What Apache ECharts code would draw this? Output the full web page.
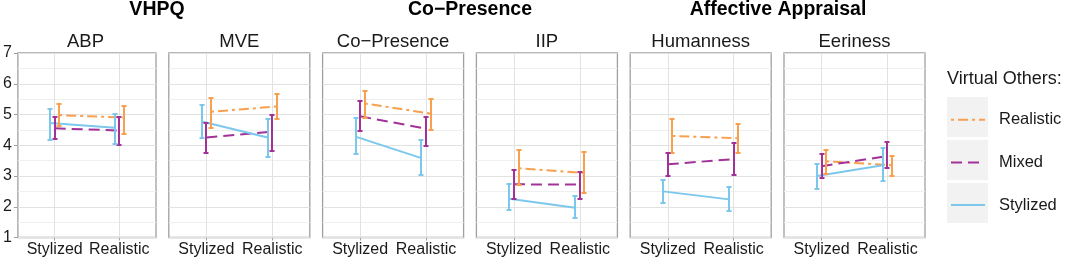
<!DOCTYPE html>
<html>
<head>
<meta charset="utf-8">
<script src="https://cdn.jsdelivr.net/npm/echarts@6/dist/echarts.min.js"></script>
<style>
  html, body { margin: 0; padding: 0; background: #fff; }
  #chart { width: 1065px; height: 261px; }
</style>
</head>
<body>
<div id="chart"></div>
<script>
// facets and groups
const groupTitles = ['VHPQ', 'Co\u2212Presence', 'Affective Appraisal'];
const panelNames = ['ABP', 'MVE', 'Co\u2212Presence', 'IIP', 'Humanness', 'Eeriness'];
const conditions = ['Stylized', 'Realistic'];
const others = ['Realistic', 'Mixed', 'Stylized'];

// [stylized, realistic] per panel
const realisticMean = [[4.98, 4.90], [5.09, 5.26], [5.36, 5.03], [3.25, 3.10], [4.30, 4.23], [3.48, 3.35]];
const realisticLow  = [[4.62, 4.38], [4.55, 4.84], [4.90, 4.49], [2.70, 2.45], [3.76, 3.74], [3.06, 3.00]];
const realisticHigh = [[5.35, 5.28], [5.55, 5.68], [5.78, 5.52], [3.86, 3.78], [4.86, 4.68], [3.86, 3.66]];

const mixedMean = [[4.55, 4.48], [4.25, 4.44], [4.94, 4.54], [2.73, 2.72], [3.38, 3.55], [3.32, 3.65]];
const mixedLow  = [[4.21, 4.02], [3.74, 3.80], [4.47, 3.99], [2.26, 2.25], [3.01, 3.04], [2.92, 3.27]];
const mixedHigh = [[4.92, 4.92], [4.72, 5.00], [5.45, 4.92], [3.18, 3.12], [3.76, 4.06], [3.71, 4.10]];

const stylizedMean = [[4.72, 4.57], [4.77, 4.25], [4.28, 3.58], [2.26, 1.97], [2.50, 2.24], [3.00, 3.35]];
const stylizedLow  = [[4.18, 4.03], [4.23, 3.62], [3.71, 3.02], [1.91, 1.63], [2.12, 1.86], [2.59, 2.84]];
const stylizedHigh = [[5.17, 5.03], [5.32, 4.85], [4.88, 4.17], [2.74, 2.36], [2.86, 2.65], [3.40, 3.90]];

const stats = {
  Realistic: { mean: realisticMean, low: realisticLow, high: realisticHigh },
  Mixed: { mean: mixedMean, low: mixedLow, high: mixedHigh },
  Stylized: { mean: stylizedMean, low: stylizedLow, high: stylizedHigh }
};

const colors = { Realistic: '#F9A04E', Mixed: '#A23298', Stylized: '#7CC8EC' };
const dashes = { Realistic: [3, 4, 10, 4], Mixed: [11, 6], Stylized: 'solid' };
const dodge = { Stylized: -0.07, Mixed: 0, Realistic: 0.07 };

const FONT = 'Liberation Sans';
const panelLeft = 15, panelStep = 153.8, panelWidth = 141, panelTop = 53, panelHeight = 184.5;
const titleX = [157, 470, 778];

const chart = echarts.init(document.getElementById('chart'));

const grids = [], xAxes = [], yAxes = [], series = [], graphics = [];

panelNames.forEach((name, i) => {
  const left = panelLeft + i * panelStep;
  grids.push({
    left: left, top: panelTop, width: panelWidth, height: panelHeight,
    show: true, borderColor: '#A0A0A0', borderWidth: 1.3, backgroundColor: '#fff'
  });
  xAxes.push({
    type: 'value', gridIndex: i, min: 0.43, max: 2.57,
    axisLine: { show: false },
    axisTick: { show: true, customValues: [1, 2], length: 3, lineStyle: { color: '#A0A0A0' } },
    axisLabel: {
      customValues: [1, 2], margin: 4,
      formatter: v => conditions[Math.round(v) - 1] || '',
      color: '#1A1A1A', fontSize: 16, fontFamily: FONT
    },
    splitLine: { show: false }
  });
  yAxes.push({
    type: 'value', gridIndex: i, min: 1, max: 7, interval: 1,
    axisLine: { show: false },
    axisTick: { show: i === 0, length: 4, lineStyle: { color: '#A0A0A0' } },
    axisLabel: { show: i === 0, margin: 6, color: '#1A1A1A', fontSize: 16, fontFamily: FONT },
    splitLine: { show: true, lineStyle: { color: '#E2E2E2', width: 1 } },
    minorTick: { show: false, splitNumber: 2 },
    minorSplitLine: { show: true, lineStyle: { color: '#EFEFEF', width: 1 } }
  });

  // vertical major grid lines at the two categories (kept under the data)
  series.push({
    type: 'line', name: 'grid', xAxisIndex: i, yAxisIndex: i, data: [], z: 1, silent: true,
    markLine: {
      z: 1, silent: true, symbol: ['none', 'none'], label: { show: false },
      lineStyle: { type: 'solid', color: '#E2E2E2', width: 1 },
      data: [{ xAxis: 1 }, { xAxis: 2 }]
    }
  });

  others.forEach(o => {
    const s = stats[o];
    series.push({
      type: 'line', name: o, xAxisIndex: i, yAxisIndex: i, z: 3,
      symbol: 'none', showSymbol: false,
      lineStyle: { color: colors[o], width: 2, type: dashes[o] },
      itemStyle: { color: colors[o] },
      data: conditions.map((c, k) => [k + 1 + dodge[o], s.mean[i][k]])
    });
    series.push({
      type: 'custom', name: o + ' CI', xAxisIndex: i, yAxisIndex: i, z: 4,
      data: conditions.map((c, k) => [k + 1 + dodge[o], s.low[i][k], s.high[i][k]]),
      encode: { x: 0, y: [1, 2] },
      renderItem: (params, api) => {
        const x = api.value(0);
        const lo = api.coord([x, api.value(1)]);
        const hi = api.coord([x, api.value(2)]);
        const px = Math.round(lo[0]);
        const y1 = Math.round(lo[1]), y2 = Math.round(hi[1]);
        const cap = 2.5;
        const style = { fill: colors[o], stroke: null };
        return {
          type: 'group', children: [
            { type: 'rect', shape: { x: px - 1, y: y2 - 1, width: 2, height: y1 - y2 + 2 }, style: style },
            { type: 'rect', shape: { x: px - cap, y: y1 - 1, width: cap * 2, height: 2 }, style: style },
            { type: 'rect', shape: { x: px - cap, y: y2 - 1, width: cap * 2, height: 2 }, style: style }
          ]
        };
      }
    });
  });

  graphics.push({
    type: 'text', x: left + panelWidth / 2, y: 41.5,
    style: { text: name, fontSize: 18.5, fontFamily: FONT, fill: '#1A1A1A', align: 'center', verticalAlign: 'middle' }
  });
});

groupTitles.forEach((t, g) => {
  graphics.push({
    type: 'text', x: titleX[g], y: 10,
    style: { text: t, fontSize: 19.5, fontWeight: 'bold', fontFamily: FONT, fill: '#000', align: 'center', verticalAlign: 'middle' }
  });
});

// legend
graphics.push({
  type: 'text', x: 947, y: 79,
  style: { text: 'Virtual Others:', fontSize: 18, fontFamily: FONT, fill: '#1A1A1A', align: 'left', verticalAlign: 'middle' }
});
others.forEach((o, k) => {
  graphics.push({
    type: 'rect', z: 0, shape: { x: 947, y: 97 + k * 43, width: 41, height: 40 },
    style: { fill: '#F2F2F2' }
  });
});

chart.setOption({
  animation: false,
  grid: grids,
  xAxis: xAxes,
  yAxis: yAxes,
  series: series,
  legend: {
    data: others, orient: 'vertical', left: 950, top: 111, padding: 0, z: 10,
    itemWidth: 34, itemHeight: 22, itemGap: 25, selectedMode: false,
    itemStyle: { opacity: 0 },
    lineStyle: { width: 2 },
    textStyle: { fontSize: 16.5, fontFamily: FONT, color: '#1A1A1A', padding: [0, 0, 0, 9] }
  },
  graphic: graphics
});
</script>
</body>
</html>
